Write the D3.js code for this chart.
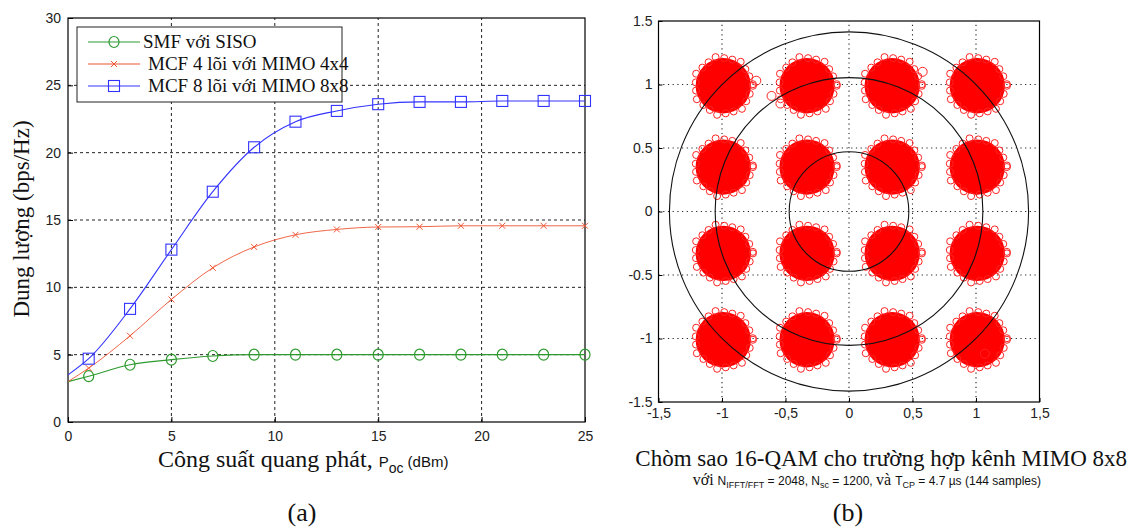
<!DOCTYPE html>
<html>
<head>
<meta charset="utf-8">
<script src="https://cdn.jsdelivr.net/npm/d3@7"></script>
<style>
  body { margin: 0; background: #fff; }
  svg { display: block; }
  .tick text { font-family: "Liberation Sans", Arial, sans-serif; font-size: 14px; fill: #222; }
  .serif { font-family: "Liberation Serif", "Times New Roman", serif; fill: #111; }
  .sans { font-family: "Liberation Sans", Arial, sans-serif; fill: #111; }
</style>
</head>
<body>
<svg id="chart" width="1135" height="530"></svg>
<script>
// ---- panel (a) data: capacity vs launch power ----
const powerX = [0, 1, 3, 5, 7, 9, 11, 13, 15, 17, 19, 21, 23, 25];
const smfSiso = [3.0, 3.4, 4.25, 4.63, 4.9, 5.0, 5.0, 5.0, 5.0, 5.0, 5.0, 5.0, 5.0, 5.0];
const mcf4 = [3.0, 4.0, 6.4, 9.1, 11.45, 13.0, 13.9, 14.3, 14.48, 14.5, 14.57, 14.57, 14.57, 14.57];
const mcf8 = [3.5, 4.7, 8.4, 12.8, 17.1, 20.4, 22.3, 23.1, 23.6, 23.77, 23.77, 23.84, 23.84, 23.84];
const seriesNames = ["SMF với SISO", "MCF 4 lõi với MIMO 4x4", "MCF 8 lõi với MIMO 8x8"];
const xTicksA = [0, 5, 10, 15, 20, 25];
const yTicksA = [0, 5, 10, 15, 20, 25, 30];

// ---- panel (b) data: 16-QAM constellation ----
const clusterI = [-0.99, -0.33, 0.34, 1.01];
const clusterQ = [0.99, 0.35, -0.33, -1.01];
const clusterSpread = 0.21;          // cloud radius
const outliers = [[-0.61, 0.91], [-0.54, 0.85], [0.58, 1.10], [-0.73, 1.03], [1.07, -1.12]];
const ringRadii = [0.471, 1.054, 1.414];
const ticksB = [-1.5, -1, -0.5, 0, 0.5, 1, 1.5];

const svg = d3.select("#chart");

// ================= panel (a) =================
const xA = d3.scaleLinear().domain([0, 25]).range([68, 585]);
const yA = d3.scaleLinear().domain([0, 30]).range([422, 18]);
const gA = svg.append("g");

// grid
gA.append("g").selectAll("line").data(xTicksA.slice(1, -1)).join("line")
  .attr("x1", d => xA(d)).attr("x2", d => xA(d)).attr("y1", yA(0)).attr("y2", yA(30))
  .attr("stroke", "#222").attr("stroke-dasharray", "3,3").attr("stroke-width", 1);
gA.append("g").selectAll("line").data(yTicksA.slice(1, -1)).join("line")
  .attr("x1", xA(0)).attr("x2", xA(25)).attr("y1", d => yA(d)).attr("y2", d => yA(d))
  .attr("stroke", "#222").attr("stroke-dasharray", "3,3").attr("stroke-width", 1);

gA.append("g").attr("transform", `translate(0,${yA(0)})`)
  .call(d3.axisBottom(xA).tickValues(xTicksA).tickSize(-5).tickPadding(9))
  .call(g => g.select(".domain").remove());
gA.append("g").attr("transform", `translate(${xA(0)},0)`)
  .call(d3.axisLeft(yA).tickValues(yTicksA).tickSize(-5).tickPadding(7))
  .call(g => g.select(".domain").remove());
gA.selectAll(".tick line").attr("stroke", "#000");

gA.append("rect").attr("x", xA(0)).attr("y", yA(30))
  .attr("width", xA(25) - xA(0)).attr("height", yA(0) - yA(30))
  .attr("fill", "none").attr("stroke", "#000").attr("stroke-width", 1.2);

const colors = ["#2e9a2e", "#ee5533", "#3333ff"];
const allSeries = [smfSiso, mcf4, mcf8];
const line = d3.line().x(d => xA(d[0])).y(d => yA(d[1])).curve(d3.curveMonotoneX);

function marker(sel, k, x, y) {
  if (k === 0) {
    sel.append("ellipse").attr("cx", x).attr("cy", y).attr("rx", 5).attr("ry", 5.5)
      .attr("fill", "none").attr("stroke", colors[0]).attr("stroke-width", 1.2);
  } else if (k === 1) {
    sel.append("path").attr("d", `M${x-3},${y-3}L${x+3},${y+3}M${x-3},${y+3}L${x+3},${y-3}`)
      .attr("stroke", colors[1]).attr("stroke-width", 1);
  } else {
    sel.append("rect").attr("x", x - 5.5).attr("y", y - 5.5).attr("width", 11).attr("height", 11)
      .attr("fill", "none").attr("stroke", colors[2]).attr("stroke-width", 1.1);
  }
}

allSeries.forEach((vals, k) => {
  const pts = powerX.map((x, i) => [x, vals[i]]);
  gA.append("path").datum(pts).attr("d", line)
    .attr("fill", "none").attr("stroke", colors[k]).attr("stroke-width", k === 1 ? 0.9 : 1.1);
  const mg = gA.append("g");
  pts.slice(1).forEach(p => marker(mg, k, xA(p[0]), yA(p[1])));
});

// legend
const lg = gA.append("g");
lg.append("rect").attr("x", 77).attr("y", 27).attr("width", 265).attr("height", 75)
  .attr("fill", "#fff").attr("stroke", "#222").attr("stroke-width", 1);
seriesNames.forEach((name, k) => {
  const yy = 42 + k * 22;
  lg.append("line").attr("x1", 88).attr("x2", 140).attr("y1", yy).attr("y2", yy)
    .attr("stroke", colors[k]).attr("stroke-width", 1.1);
  marker(lg, k, 114, yy);
  lg.append("text").attr("class", "serif").attr("x", k === 0 ? 143 : 148).attr("y", yy + 6)
    .attr("font-size", 19).text(name);
});

// axis labels
svg.append("text").attr("class", "serif").attr("font-size", 23)
  .attr("transform", "translate(29,219) rotate(-90)").attr("text-anchor", "middle")
  .text("Dung lượng (bps/Hz)");
const xl = svg.append("text").attr("class", "serif").attr("font-size", 24)
  .attr("x", 158).attr("y", 467);
xl.append("tspan").text("Công suất quang phát, ");
xl.append("tspan").attr("class", "sans").attr("font-size", 15).text("P");
xl.append("tspan").attr("class", "sans").attr("font-size", 14).attr("dy", 6).text("oc");
xl.append("tspan").attr("class", "sans").attr("font-size", 15).attr("dy", -6).text(" (dBm)");
svg.append("text").attr("class", "serif").attr("font-size", 26).attr("text-anchor", "middle")
  .attr("x", 302).attr("y", 521).text("(a)");

// ================= panel (b) =================
const xB = d3.scaleLinear().domain([-1.5, 1.5]).range([658.5, 1039.5]);
const yB = d3.scaleLinear().domain([-1.5, 1.5]).range([402, 21]);
const gB = svg.append("g");

gB.append("g").selectAll("line").data(ticksB.slice(1, -1)).join("line")
  .attr("x1", d => xB(d)).attr("x2", d => xB(d)).attr("y1", yB(-1.5)).attr("y2", yB(1.5))
  .attr("stroke", "#222").attr("stroke-dasharray", "1.2,3.5").attr("stroke-width", 1.1);
gB.append("g").selectAll("line").data(ticksB.slice(1, -1)).join("line")
  .attr("x1", xB(-1.5)).attr("x2", xB(1.5)).attr("y1", d => yB(d)).attr("y2", d => yB(d))
  .attr("stroke", "#222").attr("stroke-dasharray", "1.2,3.5").attr("stroke-width", 1.1);

// constellation clouds
const clusters = [];
clusterQ.forEach(q => clusterI.forEach(i => clusters.push([i, q])));
const cloud = gB.append("g");
const rPx = xB(clusterSpread) - xB(0);
clusters.forEach(c => {
  const cx = xB(c[0]), cy = yB(c[1]);
  cloud.append("circle").attr("cx", cx).attr("cy", cy).attr("r", rPx + 1).attr("fill", "#f00");
  d3.range(0, 360, 17).forEach((a, j) => {
    const rr = rPx + (j % 3 === 0 ? 3 : 1);
    cloud.append("circle")
      .attr("cx", cx + rr * Math.cos(a * Math.PI / 180))
      .attr("cy", cy + rr * Math.sin(a * Math.PI / 180))
      .attr("r", 3.5).attr("fill", "none").attr("stroke", "#f22").attr("stroke-width", 1);
  });
});
cloud.selectAll(".out").data(outliers).join("circle")
  .attr("cx", d => xB(d[0])).attr("cy", d => yB(d[1])).attr("r", 4.5)
  .attr("fill", "none").attr("stroke", "#f22").attr("stroke-width", 1);

gB.append("g").selectAll("circle").data(ringRadii).join("circle")
  .attr("cx", xB(0)).attr("cy", yB(0)).attr("r", d => xB(d) - xB(0))
  .attr("fill", "none").attr("stroke", "#111").attr("stroke-width", 1.1);

gB.append("g").attr("transform", `translate(0,${yB(-1.5)})`)
  .call(d3.axisBottom(xB).tickValues(ticksB).tickSize(-4).tickPadding(6)
    .tickFormat(d => String(d).replace(".", ",")))
  .call(g => g.select(".domain").remove());
gB.append("g").attr("transform", `translate(${xB(-1.5)},0)`)
  .call(d3.axisLeft(yB).tickValues(ticksB).tickSize(-4).tickPadding(6).tickFormat(d => String(d)))
  .call(g => g.select(".domain").remove());
gB.selectAll(".tick line").attr("stroke", "#000");

gB.append("rect").attr("x", xB(-1.5)).attr("y", yB(1.5))
  .attr("width", xB(1.5) - xB(-1.5)).attr("height", yB(-1.5) - yB(1.5))
  .attr("fill", "none").attr("stroke", "#000").attr("stroke-width", 1.2);

svg.append("text").attr("class", "serif").attr("font-size", 23).attr("text-anchor", "end")
  .attr("x", 1127).attr("y", 466).text("Chòm sao 16-QAM cho trường hợp kênh MIMO 8x8");
const sub = svg.append("text").attr("class", "sans").attr("font-size", 12).attr("text-anchor", "end")
  .attr("x", 1041).attr("y", 485);
sub.append("tspan").attr("class", "serif").attr("font-size", 16).text("với ");
sub.append("tspan").text("N");
sub.append("tspan").attr("font-size", 9).attr("dy", 3).text("IFFT/FFT");
sub.append("tspan").attr("dy", -3).text(" = 2048, N");
sub.append("tspan").attr("font-size", 9).attr("dy", 3).text("sc");
sub.append("tspan").attr("dy", -3).text(" = 1200, ");
sub.append("tspan").attr("class", "serif").attr("font-size", 16).text("và ");
sub.append("tspan").text("T");
sub.append("tspan").attr("font-size", 9).attr("dy", 3).text("CP");
sub.append("tspan").attr("dy", -3).text(" = 4.7 µs (144 samples)");
svg.append("text").attr("class", "serif").attr("font-size", 26).attr("text-anchor", "middle")
  .attr("x", 848).attr("y", 521).text("(b)");
</script>
</body>
</html>
